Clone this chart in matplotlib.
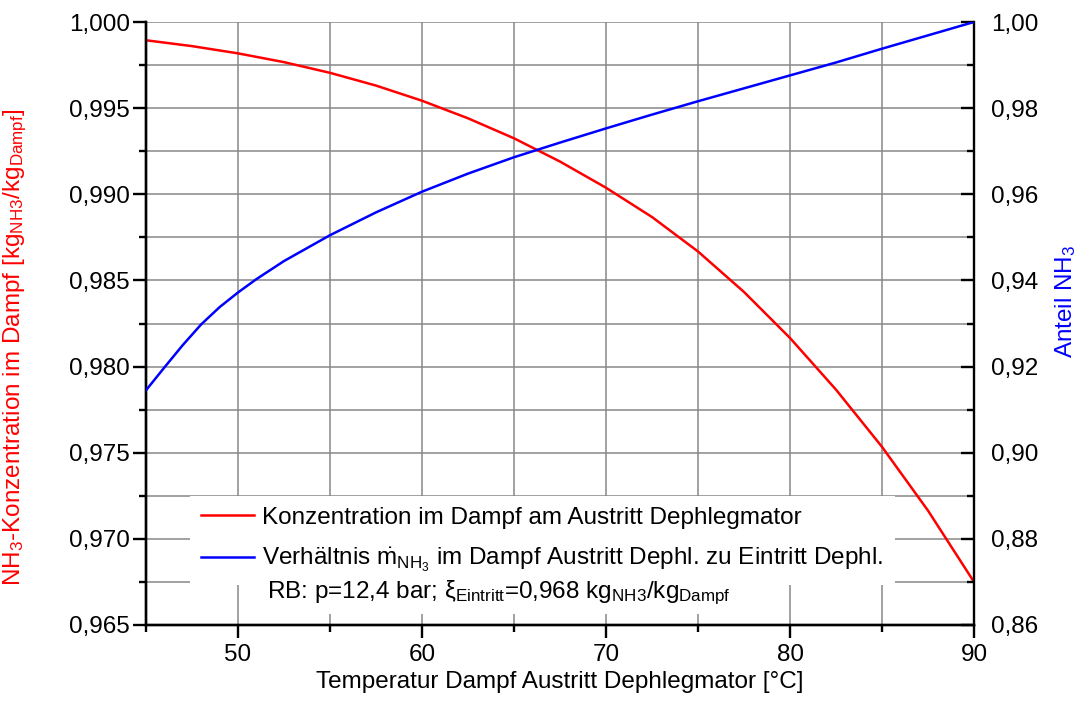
import numpy as np
import matplotlib
matplotlib.use("Agg")
import matplotlib.pyplot as plt
from matplotlib.ticker import MultipleLocator, FuncFormatter

# Temperatur Dampf Austritt Dephlegmator [degC]
temp_k = [45, 47.5, 50, 52.5, 55, 57.5, 60, 62.5, 65, 67.5,
          70, 72.5, 75, 77.5, 80, 82.5, 85, 87.5, 90]
# NH3-Konzentration im Dampf (left axis)
konz = [0.99894, 0.99860, 0.99818, 0.99767, 0.99705, 0.99631, 0.99543,
        0.99441, 0.99325, 0.99190, 0.99038, 0.98868, 0.98668, 0.98433,
        0.98166, 0.97866, 0.97534, 0.97164, 0.96750]

temp_a = [45, 46, 47, 48, 49, 50, 51, 52.5, 55, 57.5, 60, 62.5, 65, 67.5,
          70, 72.5, 75, 77.5, 80, 82.5, 85, 87.5, 90]
# Anteil NH3 (right axis)
anteil = [0.9145, 0.9198, 0.9250, 0.9298, 0.9338, 0.9372, 0.9403, 0.9445,
          0.9505, 0.9558, 0.9606, 0.9648, 0.9686, 0.9720, 0.9753, 0.9785,
          0.9816, 0.9846, 0.9876, 0.9906, 0.9938, 0.9969, 1.0000]

lab_red = "Konzentration im Dampf am Austritt Dephlegmator"
lab_blue = r"Verhältnis $\dot{\mathrm{m}}_{\mathrm{NH}_3}$ im Dampf Austritt Dephl. zu Eintritt Dephl."
lab_rb = r"RB: p=12,4 bar; ξ$_{\mathrm{Eintritt}}$=0,968 kg$_{\mathrm{NH3}}$/kg$_{\mathrm{Dampf}}$"

plt.rcParams['font.family'] = ['Liberation Sans', 'DejaVu Sans']
plt.rcParams['mathtext.fontset'] = 'custom'
plt.rcParams['mathtext.rm'] = 'Liberation Sans'
plt.rcParams['mathtext.it'] = 'Liberation Sans:italic'
plt.rcParams['mathtext.bf'] = 'Liberation Sans:bold'
fs = 17.5

fig = plt.figure(figsize=(10.84, 7.07), dpi=100)
ax = fig.add_axes([146/1084, 1-625/707, 828/1084, 603/707])
ax2 = ax.twinx()

l1, = ax.plot(temp_k, konz, color='#ff0000', lw=1.8, zorder=3)
l2, = ax2.plot(temp_a, anteil, color='#0000ff', lw=1.8, zorder=3)

ax.set_xlim(45, 90)
ax.set_ylim(0.965, 1.000)
ax2.set_ylim(0.86, 1.00)

ax.xaxis.set_major_locator(MultipleLocator(10))
ax.xaxis.set_minor_locator(MultipleLocator(5))
ax.yaxis.set_major_locator(MultipleLocator(0.005))
ax.yaxis.set_minor_locator(MultipleLocator(0.0025))
ax2.yaxis.set_major_locator(MultipleLocator(0.02))
ax2.yaxis.set_minor_locator(MultipleLocator(0.01))

ax.yaxis.set_major_formatter(FuncFormatter(lambda v, p: f"{v:.3f}".replace('.', ',')))
ax2.yaxis.set_major_formatter(FuncFormatter(lambda v, p: f"{v:.2f}".replace('.', ',')))
ax.xaxis.set_major_formatter(FuncFormatter(lambda v, p: f"{v:.0f}"))

# grid every 5 degC and every 0.0025
ax.grid(True, which='both', color='#878787', lw=1.1, zorder=0)
for t in ax.yaxis.get_major_ticks():
    if abs(t.get_loc() - 1.0) < 1e-9:
        t.gridline.set_visible(False)
ax.set_axisbelow(True)

for a in (ax, ax2):
    a.spines['top'].set_visible(False)
    for s in a.spines.values():
        s.set_linewidth(1.7)
ax.spines['right'].set_visible(False)

ax.tick_params(axis='both', which='major', direction='out', length=9.5, width=1.7,
               labelsize=fs, pad=2)
ax.tick_params(axis='both', which='minor', direction='out', length=5, width=1.7)
ax.tick_params(axis='x', which='major', pad=4)
ax2.tick_params(axis='y', which='major', direction='in', length=9.5, width=1.7,
                labelsize=fs, pad=12)
ax2.tick_params(axis='y', which='minor', direction='in', length=5, width=1.7)

ax.set_xlabel("Temperatur Dampf Austritt Dephlegmator [°C]", fontsize=fs)
ax.set_ylabel(r"NH$_3$-Konzentration im Dampf [kg$_{\mathrm{NH3}}$/kg$_{\mathrm{Dampf}}$]",
              fontsize=fs, color='#ff0000')
ax.yaxis.set_label_coords(-0.141, 0.46)
ax2.set_ylabel(r"Anteil NH$_3$", fontsize=fs, color='#0000ff')
ax2.yaxis.set_label_coords(1.095, 0.536)

leg = ax.legend(handles=[l1, l2], labels=[lab_red, lab_blue], loc='upper left',
                bbox_to_anchor=(0.053, 0.214), borderaxespad=0, fontsize=fs,
                frameon=True, fancybox=False, framealpha=1, facecolor='white',
                edgecolor='none', handlelength=2.2, handletextpad=0.33,
                borderpad=0.45, labelspacing=0.7)
leg.set_zorder(5)

ax.text(0.1461, 0.0448, lab_rb, transform=ax.transAxes, fontsize=fs,
        va='baseline', ha='left', zorder=6,
        bbox=dict(facecolor='white', edgecolor='none', pad=5))

fig.savefig("out.png", dpi=100)
